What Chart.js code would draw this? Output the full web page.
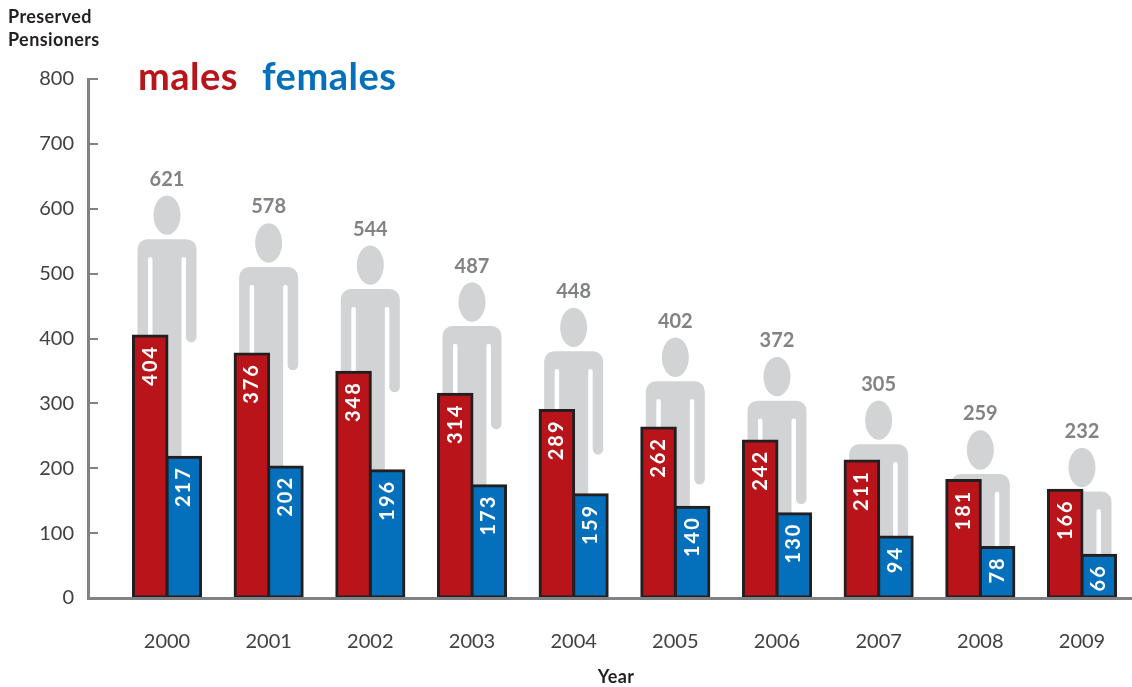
<!DOCTYPE html>
<html>
<head>
<meta charset="utf-8">
<title>Preserved Pensioners</title>
<script src="https://cdn.jsdelivr.net/npm/chart.js@4"></script>
<style>
  html, body { margin: 0; padding: 0; background: #fff; }
  canvas { display: block; }
</style>
</head>
<body>
<canvas id="pensionChart" width="1132" height="687"></canvas>
<script>
const years = [2000, 2001, 2002, 2003, 2004, 2005, 2006, 2007, 2008, 2009];
const males = [404, 376, 348, 314, 289, 262, 242, 211, 181, 166];
const females = [217, 202, 196, 173, 159, 140, 130, 94, 78, 66];
const totals = [621, 578, 544, 487, 448, 402, 372, 305, 259, 232];

const FONT = "Lato, sans-serif";
const RED = "#b9141a";
const BLUE = "#0470bb";
const AXIS = "#808285";
const PERSON = "#d1d3d4";

// grey figure behind each pair of bars, head top sits at the total
function drawPerson(ctx, cx, top, base) {
  ctx.fillStyle = PERSON;
  ctx.beginPath();
  ctx.ellipse(cx, top + 20, 13.5, 19.7, 0, 0, Math.PI * 2);
  ctx.fill();

  const shoulder = top + 44;
  const slit = top + 62;
  const armEnd = top + 147;
  ctx.beginPath();
  ctx.moveTo(cx - 14.5, base);
  ctx.lineTo(cx - 14.5, slit + 2);
  ctx.arc(cx - 16.75, slit + 2, 2.25, 0, Math.PI, true);
  ctx.lineTo(cx - 19, armEnd - 5);
  ctx.arc(cx - 24.25, armEnd - 5, 5.25, 0, Math.PI);
  ctx.lineTo(cx - 29.5, shoulder + 10);
  ctx.arcTo(cx - 29.5, shoulder, cx - 19.5, shoulder, 10);
  ctx.lineTo(cx + 19.5, shoulder);
  ctx.arcTo(cx + 29.5, shoulder, cx + 29.5, shoulder + 10, 10);
  ctx.lineTo(cx + 29.5, armEnd - 5);
  ctx.arc(cx + 24.25, armEnd - 5, 5.25, 0, Math.PI);
  ctx.lineTo(cx + 19, slit + 2);
  ctx.arc(cx + 16.75, slit + 2, 2.25, 0, Math.PI, true);
  ctx.lineTo(cx + 14.5, base);
  ctx.closePath();
  ctx.fill();
}

const peoplePlugin = {
  id: "people",
  beforeDatasetsDraw(chart) {
    const { ctx, scales } = chart;
    ctx.save();
    totals.forEach((total, i) => {
      const cx = scales.x.getPixelForValue(years[i]);
      const top = scales.y.getPixelForValue(total);
      drawPerson(ctx, cx, top, scales.y.getPixelForValue(0));
      ctx.fillStyle = AXIS;
      ctx.font = "bold 20px " + FONT;
      ctx.textAlign = "center";
      ctx.textBaseline = "middle";
      ctx.fillText(String(total), cx, top - 16);
    });
    ctx.restore();
  },
  afterDatasetsDraw(chart) {
    const { ctx } = chart;
    ctx.save();
    // values inside the bars, reading upwards
    chart.data.datasets.forEach((dataset, d) => {
      chart.getDatasetMeta(d).data.forEach((bar, i) => {
        ctx.save();
        ctx.translate(bar.x, bar.y + 9);
        ctx.rotate(-Math.PI / 2);
        ctx.fillStyle = "#fff";
        ctx.font = "bold 20px " + FONT;
        ctx.letterSpacing = "2px";
        ctx.textAlign = "right";
        ctx.textBaseline = "middle";
        ctx.fillText(String(dataset.data[i].y), 0, 0);
        ctx.restore();
      });
    });

    ctx.font = "bold 18px " + FONT;
    ctx.letterSpacing = "0.4px";
    ctx.fillStyle = "#231f20";
    ctx.textBaseline = "middle";
    ctx.textAlign = "left";
    ctx.fillText("Preserved", 8, 17);
    ctx.fillText("Pensioners", 8, 40);
    ctx.textAlign = "center";
    ctx.fillText("Year", 616, 677);

    ctx.font = "bold 38px " + FONT;
    ctx.letterSpacing = "0.5px";
    ctx.textAlign = "left";
    ctx.textBaseline = "alphabetic";
    ctx.fillStyle = RED;
    ctx.fillText("males", 138, 90);
    ctx.fillStyle = BLUE;
    ctx.fillText("females", 262, 90);
    ctx.restore();
  },
};

function barSeries(label, values, color) {
  return {
    label,
    data: values.map((v, i) => ({ x: years[i], y: v })),
    backgroundColor: color,
    borderColor: "#231f20",
    borderWidth: 3,
    borderSkipped: false,
    inflateAmount: 1.5,
    categoryPercentage: 0.66,
    barPercentage: 1,
  };
}

new Chart(document.getElementById("pensionChart").getContext("2d"), {
  type: "bar",
  data: {
    datasets: [barSeries("males", males, RED), barSeries("females", females, BLUE)],
  },
  plugins: [peoplePlugin],
  options: {
    responsive: false,
    animation: false,
    layout: { padding: { top: 79, left: 0, right: 0, bottom: 0 } },
    plugins: {
      legend: { display: false },
      tooltip: { enabled: false },
    },
    scales: {
      x: {
        type: "linear",
        bounds: "data",
        min: 1999.223,
        max: 2009.492,
        offset: false,
        afterBuildTicks(scale) {
          scale.ticks = years.map((value) => ({ value }));
        },
        afterFit(scale) {
          scale.height = 89;
          scale.paddingLeft = 0;
          scale.paddingRight = 0;
        },
        grid: { offset: false, drawOnChartArea: false, drawTicks: false },
        border: { color: AXIS, width: 3, z: 1 },
        ticks: {
          autoSkip: false,
          maxRotation: 0,
          padding: 32,
          color: "#414042",
          font: { family: FONT, size: 20 },
          callback: (value) => String(value),
        },
      },
      y: {
        min: 0,
        max: 800,
        afterFit(scale) {
          scale.width = 88;
        },
        grid: { drawOnChartArea: false, tickLength: -10, color: AXIS, lineWidth: 2 },
        border: { color: AXIS, width: 3 },
        ticks: {
          stepSize: 100,
          padding: 24,
          color: "#414042",
          font: { family: FONT, size: 20 },
        },
      },
    },
  },
});
</script>
</body>
</html>
